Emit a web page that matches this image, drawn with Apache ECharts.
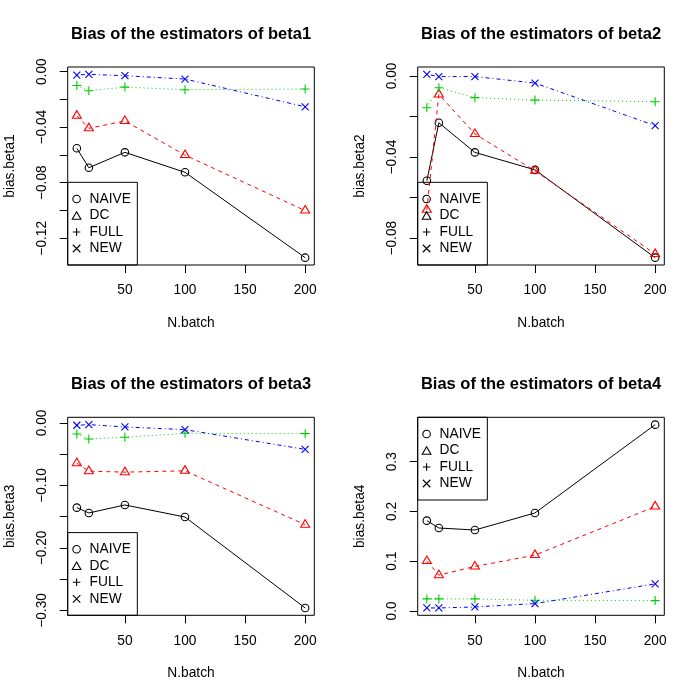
<!DOCTYPE html>
<html>
<head>
<meta charset="utf-8">
<script src="https://cdn.jsdelivr.net/npm/echarts@6/dist/echarts.min.js"></script>
<style>
html,body{margin:0;padding:0;background:#fff;}
#chart{width:700px;height:700px;}
</style>
</head>
<body>
<div id="chart"></div>
<script>
// ---- data ----
const batches = [10, 20, 50, 100, 200];
const seriesNames = ['NAIVE', 'DC', 'FULL', 'NEW'];

const naive1 = [-0.0552, -0.0692, -0.0581, -0.0725, -0.1340];
const dc1    = [-0.0318, -0.0408, -0.0355, -0.0601, -0.1001];
const full1  = [-0.0099, -0.0137, -0.0111, -0.0130, -0.0125];
const new1   = [-0.0024, -0.0019, -0.0029, -0.0053, -0.0253];

const naive2 = [-0.0517, -0.0231, -0.0377, -0.0463, -0.0896];
const dc2    = [-0.0660, -0.0091, -0.0286, -0.0468, -0.0878];
const full2  = [-0.0157, -0.0058, -0.0107, -0.0119, -0.0127];
const new2   = [ 0.0008, -0.0003, -0.0003, -0.0035, -0.0245];

const naive3 = [-0.1355, -0.1440, -0.1312, -0.1505, -0.2960];
const dc3    = [-0.0643, -0.0771, -0.0787, -0.0766, -0.1628];
const full3  = [-0.0177, -0.0257, -0.0230, -0.0166, -0.0171];
const new3   = [-0.0037, -0.0027, -0.0064, -0.0107, -0.0423];

const naive4 = [0.1816, 0.1668, 0.1627, 0.1970, 0.3746];
const dc4    = [0.1002, 0.0720, 0.0894, 0.1123, 0.2098];
const full4  = [0.0242, 0.0242, 0.0242, 0.0215, 0.0208];
const new4   = [0.0060, 0.0060, 0.0080, 0.0148, 0.0545];

const titles = ['Bias of the estimators of beta1', 'Bias of the estimators of beta2',
                'Bias of the estimators of beta3', 'Bias of the estimators of beta4'];
const yNames = ['bias.beta1', 'bias.beta2', 'bias.beta3', 'bias.beta4'];
const xName = 'N.batch';

const xTicks = [50, 100, 150, 200];
const yTicks1 = [0, -0.02, -0.04, -0.06, -0.08, -0.10, -0.12];
const yLabels1 = [0, -0.04, -0.08, -0.12];
const yTicks2 = [0, -0.02, -0.04, -0.06, -0.08];
const yLabels2 = [0, -0.04, -0.08];
const yTicks3 = [0, -0.05, -0.10, -0.15, -0.20, -0.25, -0.30];
const yLabels3 = [0, -0.10, -0.20, -0.30];
const yTicks4 = [0, 0.1, 0.2, 0.3];
const yLabels4 = [0, 0.1, 0.2, 0.3];

// ---- layout / style ----
const panels = [
  {vals:[naive1, dc1, full1, new1], ticks:yTicks1, labels:yLabels1, dec:2, left:67.7, top:67, legendTop:182.3},
  {vals:[naive2, dc2, full2, new2], ticks:yTicks2, labels:yLabels2, dec:2, left:417.7, top:67, legendTop:182.3},
  {vals:[naive3, dc3, full3, new3], ticks:yTicks3, labels:yLabels3, dec:2, left:67.7, top:417.3, legendTop:532.6},
  {vals:[naive4, dc4, full4, new4], ticks:yTicks4, labels:yLabels4, dec:1, left:417.7, top:417.3, legendTop:417.3}
];
const W = 246.6, H = 198;
const FONT = 'Liberation Sans, Arial, Helvetica, sans-serif';
const FS = 13.75;

const colors = ['#000000', '#FF0000', '#00CD00', '#0000FF'];
const dashes = ['solid', [4, 4], [1, 3], [1, 3, 4, 3]];
const PLUS = 'path://M0,5L10,5M5,0L5,10';
const CROSS = 'path://M0,0L10,10M0,10L10,0';
const TRI = 'path://M5,0L10,8.66L0,8.66Z';
const symbols = ['circle', 'triangle', PLUS, CROSS];
const legendIcons = ['circle', TRI, PLUS, CROSS];
const symSizes = [7.5, [9, 7.6], 9, 7];
const symOffsets = [[0,0], [0,-1.3], [0,0], [0,0]];

function rng(arrs) {
  let mn = Infinity, mx = -Infinity;
  arrs.forEach(a => a.forEach(v => { mn = Math.min(mn, v); mx = Math.max(mx, v); }));
  const e = (mx - mn) * 0.04;
  return [mn - e, mx + e];
}
const xr = [batches[0] - (batches[4]-batches[0])*0.04, batches[4] + (batches[4]-batches[0])*0.04];

const grid = [], xAxis = [], yAxis = [], series = [], title = [], legend = [];
panels.forEach((p, i) => {
  grid.push({left:p.left, top:p.top, width:W, height:H, show:true, borderColor:'#000', borderWidth:1, backgroundColor:'transparent'});
  title.push({text:titles[i], left:p.left + W/2, top:p.top - 43, textAlign:'center', padding:0,
    textStyle:{fontFamily:FONT, fontSize:16.5, fontWeight:'bold', color:'#000', lineHeight:20}});
  xAxis.push({type:'value', gridIndex:i, min:xr[0], max:xr[1], position:'bottom',
    name:xName, nameLocation:'middle', nameGap:51,
    nameTextStyle:{fontFamily:FONT, fontSize:FS, color:'#000'},
    splitLine:{show:false}, axisLine:{show:false, onZero:false},
    axisTick:{show:true, length:8, lineStyle:{color:'#000', width:1}, customValues:xTicks},
    axisLabel:{show:true, margin:18.5, fontFamily:FONT, fontSize:FS, color:'#000', customValues:xTicks,
      formatter: v => String(Math.round(v))}});
  const yr = rng(p.vals);
  yAxis.push({type:'value', gridIndex:i, min:yr[0], max:yr[1], position:'left',
    name:yNames[i], nameLocation:'middle', nameGap:50,
    nameTextStyle:{fontFamily:FONT, fontSize:FS, color:'#000'},
    splitLine:{show:false}, axisLine:{show:false, onZero:false},
    axisTick:{show:true, length:8, lineStyle:{color:'#000', width:1}, customValues:p.ticks},
    axisLabel:{show:true, rotate:90, margin:18.5, fontFamily:FONT, fontSize:FS, color:'#000', customValues:p.labels,
      formatter: v => (Math.abs(v) < 1e-12 ? 0 : v).toFixed(p.dec).replace('-', '\u2212')}});
  p.vals.forEach((arr, k) => {
    series.push({type:'line', name:seriesNames[k], xAxisIndex:i, yAxisIndex:i,
      data: batches.map((b, j) => [b, arr[j]]),
      symbol:symbols[k], symbolSize:symSizes[k], symbolOffset:symOffsets[k], symbolKeepAspect:false,
      showSymbol:true,
      lineStyle:{color:colors[k], width:1, type:dashes[k]},
      itemStyle:{color:'rgba(0,0,0,0)', borderColor:colors[k], borderWidth:1.1},
      emphasis:{disabled:true}, silent:true, animation:false, z:2+k});
  });
  legend.push({orient:'vertical', left:p.left, top:p.legendTop,
    padding:[9.7, 6.5, 9.5, 4], itemGap:2.5, itemWidth:16, itemHeight:7.5, selectedMode:false,
    symbolKeepAspect:true,
    backgroundColor:'transparent', borderColor:'#000', borderWidth:1, borderRadius:0,
    textStyle:{fontFamily:FONT, fontSize:FS, color:'#000', lineHeight:14},
    data: seriesNames.map((n, k) => ({name:n, icon:legendIcons[k],
      itemStyle:{color:'rgba(0,0,0,0)', borderColor:'#000', borderWidth:1.1},
      lineStyle:{width:0, opacity:0}})),
    z:10});
});

const chart = echarts.init(document.getElementById('chart'), null, {renderer:'canvas'});
chart.setOption({
  backgroundColor:'#fff',
  animation:false,
  textStyle:{fontFamily:FONT},
  title, grid, xAxis, yAxis, series, legend
});
</script>
</body>
</html>
